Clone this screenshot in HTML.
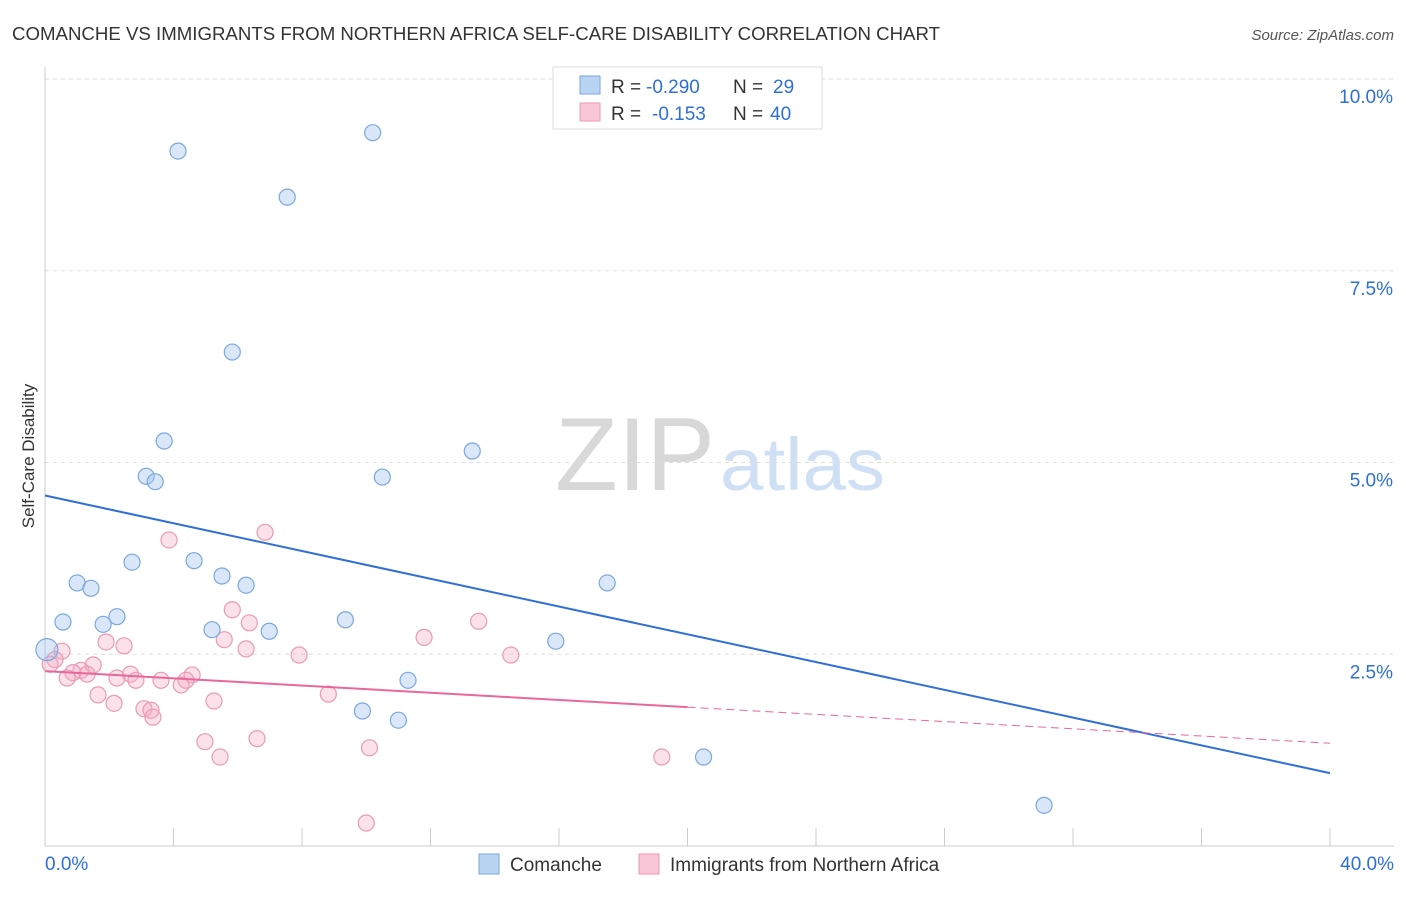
<!DOCTYPE html>
<html><head><meta charset="utf-8"><style>
body{margin:0;background:#fff;font-family:"Liberation Sans",sans-serif}
svg text{font-family:"Liberation Sans",sans-serif}
</style></head><body>
<svg id="chart" width="1406" height="892">
<text x="12" y="40" font-size="18" fill="#333" textLength="928" lengthAdjust="spacingAndGlyphs">COMANCHE VS IMMIGRANTS FROM NORTHERN AFRICA SELF-CARE DISABILITY CORRELATION CHART</text>
<text x="1394" y="40" font-size="15" fill="#555" font-style="italic" text-anchor="end">Source: ZipAtlas.com</text>
<text x="555" y="490" font-size="104" fill="#d8d8d8" font-family="Liberation Serif" textLength="160" lengthAdjust="spacingAndGlyphs">ZIP</text>
<text x="720" y="490" font-size="74" fill="#cfe0f5" textLength="165" lengthAdjust="spacingAndGlyphs">atlas</text>
<g id="grid"></g><g id="axes"></g>
<text transform="translate(34,456) rotate(-90)" font-size="17" fill="#333" text-anchor="middle">Self-Care Disability</text>
<g id="marks"></g>
<g>
<rect x="553" y="67" width="269" height="62" fill="#fff" stroke="#ddd"/>
<rect x="580" y="76" width="20" height="18" fill="#b9d3f3" stroke="#7aa7e0"/>
<rect x="580" y="103" width="20" height="18" fill="#f8c6d6" stroke="#ec9ab4"/>
<text x="611" y="93" font-size="19" fill="#333">R =</text>
<text x="646" y="93" font-size="19" fill="#2e6fd8">-0.290</text>
<text x="733" y="93" font-size="19" fill="#333">N =</text>
<text x="773" y="93" font-size="19" fill="#2e6fd8">29</text>
<text x="611" y="120" font-size="19" fill="#333">R =</text>
<text x="652" y="120" font-size="19" fill="#2e6fd8">-0.153</text>
<text x="733" y="120" font-size="19" fill="#333">N =</text>
<text x="770" y="120" font-size="19" fill="#2e6fd8">40</text>
</g>
<g>
<rect x="479" y="854" width="20" height="20" fill="#b9d3f3" stroke="#7aa7e0"/>
<text x="510" y="871" font-size="19" fill="#333">Comanche</text>
<rect x="639" y="854" width="20" height="20" fill="#f8c6d6" stroke="#ec9ab4"/>
<text x="670" y="871" font-size="19" fill="#333">Immigrants from Northern Africa</text>
</g>
</svg>
<script>
const yTicks=[2.5,5.0,7.5,10.0];
const blueX=[4.14,10.2,7.54,5.83,3.71,13.3,3.15,3.43,10.5,2.71,4.64,1.0,1.43,5.51,6.26,17.5,0.56,2.24,1.81,5.2,6.98,9.35,15.9,11.3,9.88,11.0,20.5,31.1,0.06];
const blueY=[9.06,9.30,8.46,6.44,5.28,5.15,4.82,4.75,4.81,3.70,3.72,3.43,3.36,3.52,3.40,3.43,2.92,2.99,2.89,2.82,2.80,2.95,2.67,2.16,1.76,1.64,1.16,0.53,2.56];
const pinkX=[6.85,3.86,5.83,6.36,13.5,11.8,1.9,5.58,2.46,6.26,7.91,14.5,0.53,0.31,0.16,1.5,1.12,0.87,1.31,0.69,2.24,2.66,2.83,3.61,4.58,4.39,4.24,1.65,8.82,5.26,2.15,3.08,3.3,3.36,4.98,6.6,10.1,5.45,19.2,10.0];
const pinkY=[4.09,3.99,3.08,2.91,2.93,2.72,2.66,2.69,2.61,2.57,2.49,2.49,2.54,2.43,2.37,2.36,2.29,2.26,2.24,2.19,2.19,2.24,2.16,2.16,2.23,2.16,2.10,1.97,1.98,1.89,1.86,1.79,1.77,1.68,1.36,1.40,1.28,1.16,1.16,0.30];
const blueTrend=[4.57,0.95];
const pinkTrend=[2.28,1.34];
const pinkSolidEnd=20;
const X=v=>45+v*32.125, Y=v=>846-v*76.7;
const NS="http://www.w3.org/2000/svg";
function mk(p,t,a){const e=document.createElementNS(NS,t);for(const k in a)e.setAttribute(k,a[k]);document.getElementById(p).appendChild(e);return e;}
yTicks.forEach(v=>{
 const l=mk('grid','line',{x1:45,x2:1394,y1:Y(v),y2:Y(v),stroke:'#ddd','stroke-dasharray':'4,4'});
 
 
 const t=mk('grid','text',{x:1393,y:Y(v)+24,'font-size':19,fill:'#2e6fd8','text-anchor':'end'});t.textContent=v.toFixed(1)+'%';
 
 
});
mk('grid','line',{x1:45,x2:1394,y1:79,y2:79,stroke:'#ddd','stroke-dasharray':'4,4'});
mk('axes','line',{x1:45,x2:45,y1:67,y2:846,stroke:'#ccc'});
mk('axes','line',{x1:45,x2:1394,y1:846,y2:846,stroke:'#ccc'});
for(let i=0;i<=10;i++){mk('axes','line',{x1:X(i*4),x2:X(i*4),y1:828,y2:846,stroke:'#ccc'});}
let t=mk('axes','text',{x:45,y:870,'font-size':19,fill:'#2e6fd8'});t.textContent='0.0%';


t=mk('axes','text',{x:1394,y:870,'font-size':19,fill:'#2e6fd8','text-anchor':'end'});t.textContent='40.0%';


pinkX.forEach((x,i)=>{const c=mk('marks','circle',{cx:X(x),cy:Y(pinkY[i]),r:8,fill:'rgba(244,170,195,0.35)',stroke:'#ec9ab4','stroke-width':1.2});
 
 });
blueX.forEach((x,i)=>{const c=mk('marks','circle',{cx:X(x),cy:Y(blueY[i]),r:i==blueX.length-1?11:8,fill:'rgba(160,195,240,0.4)',stroke:'#7aa7e0','stroke-width':1.2});
 
 });
const bl=mk('marks','line',{x1:X(0),y1:Y(blueTrend[0]),x2:X(40),y2:Y(blueTrend[1]),stroke:'#2f6fd6','stroke-width':2});


const pm=pinkTrend[0]+(pinkTrend[1]-pinkTrend[0])*pinkSolidEnd/40;
const pl=mk('marks','line',{x1:X(0),y1:Y(pinkTrend[0]),x2:X(pinkSolidEnd),y2:Y(pm),stroke:'#e8689a','stroke-width':2});


const pd=mk('marks','line',{x1:X(pinkSolidEnd),y1:Y(pm),x2:X(40),y2:Y(pinkTrend[1]),stroke:'#e8689a','stroke-width':1,'stroke-dasharray':'8,5'});


</script>
</body></html>
